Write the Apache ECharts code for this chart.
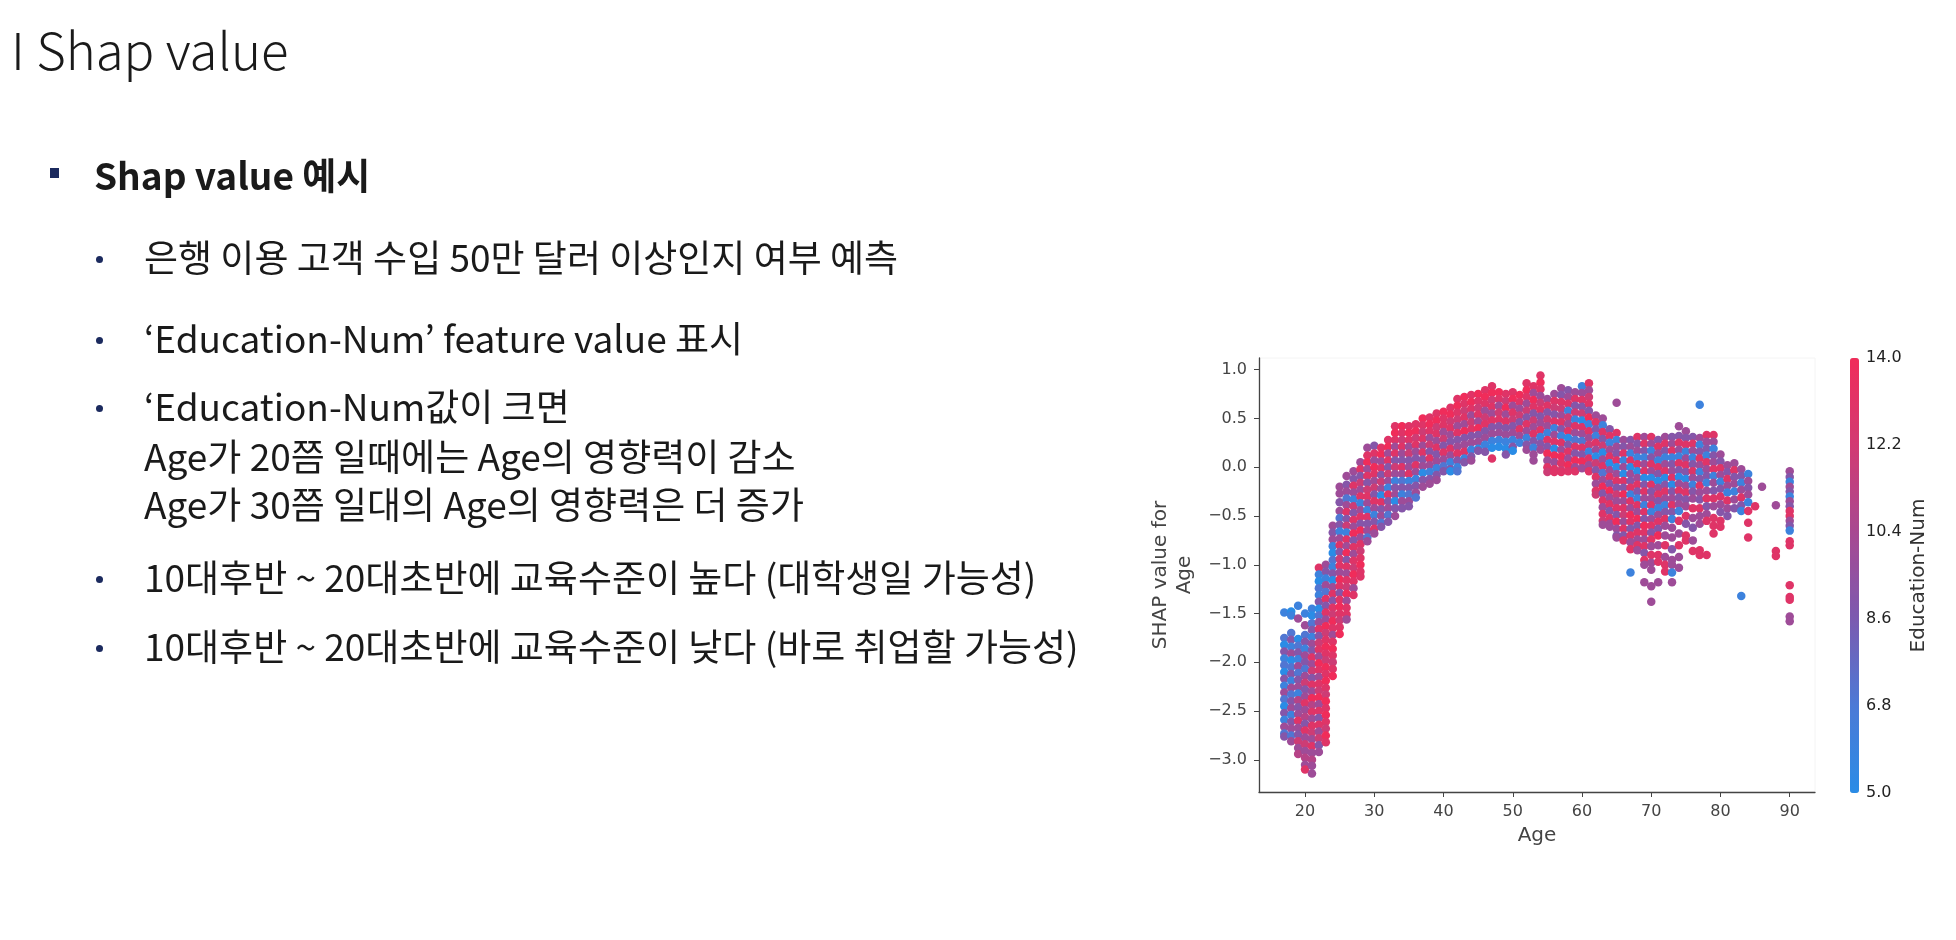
<!DOCTYPE html>
<html>
<head>
<meta charset="utf-8">
<script src="https://cdn.jsdelivr.net/npm/echarts@6/dist/echarts.min.js"></script>
<style>
    body { margin: 0; background: #fff; }
    #page { position: relative; width: 1956px; height: 940px; overflow: hidden; font-family: "Noto Sans CJK KR", sans-serif; color: #1a1a1a; }
    #chart { position: absolute; left: 0; top: 0; width: 1956px; height: 940px; }
    .title { position: absolute; left: 11px; top: 20px; font-size: 51px; line-height: 56px; font-weight: 300; white-space: nowrap; }
    .head { position: absolute; left: 94px; top: 154px; font-size: 37px; line-height: 40px; font-weight: 700; white-space: nowrap; }
    .sq { position: absolute; left: 50px; top: 168px; width: 9px; height: 10px; background: #1b2a5e; }
    .ln { position: absolute; left: 144px; font-size: 37px; line-height: 40px; white-space: nowrap; }
    .dot { position: absolute; left: 96px; width: 7px; height: 7px; border-radius: 50%; background: #1b2a5e; }
</style>
</head>
<body>
<div id="page">
    <div id="chart"></div>
    <div class="title">I Shap value</div>
    <div class="sq"></div>
    <div class="head">Shap value 예시</div>

    <div class="dot" style="top:256px"></div>
    <div class="ln" style="top:236px">은행 이용 고객 수입 50만 달러 이상인지 여부 예측</div>
    <div class="dot" style="top:337px"></div>
    <div class="ln" style="top:317px">‘Education-Num’ feature value 표시</div>
    <div class="dot" style="top:405px"></div>
    <div class="ln" style="top:385px">‘Education-Num값이 크면</div>
    <div class="ln" style="top:435px">Age가 20쯤 일때에는 Age의 영향력이 감소</div>
    <div class="ln" style="top:483px">Age가 30쯤 일대의 Age의 영향력은 더 증가</div>
    <div class="dot" style="top:576px"></div>
    <div class="ln" style="top:556px">10대후반 ~ 20대초반에 교육수준이 높다 (대학생일 가능성)</div>
    <div class="dot" style="top:645px"></div>
    <div class="ln" style="top:625px">10대후반 ~ 20대초반에 교육수준이 낮다 (바로 취업할 가능성)</div>
</div>
<script>
//刻度
var xTicks = [20, 30, 40, 50, 60, 70, 80, 90];
var yTicks = [-3, -2.5, -2, -1.5, -1, -0.5, 0, 0.5, 1];
var eduTicks = [5, 6.8, 8.6, 10.4, 12.2, 14];

//每一列: [Age, [[SHAP x100, Education-Num], ...]]
var colsYoung = [
    [17, [[-149,6],[-175,7],[-182,5],[-189,9],[-196,6],[-203,7],[-210,5],[-217,9],[-224,6],[-231,10],[-238,7],[-245,5],[-252,9],[-259,6],[-266,10],[-273,7],[-276,9]]],
    [18, [[-148,5],[-152,6],[-170,7],[-177,9],[-184,6],[-191,10],[-198,5],[-205,7],[-212,9],[-219,6],[-226,10],[-233,7],[-240,9],[-247,10],[-254,6],[-261,9],[-268,10],[-275,7],[-281,10]]],
    [19, [[-142,6],[-155,10],[-176,5],[-183,7],[-190,9],[-197,6],[-204,10],[-211,7],[-218,9],[-225,10],[-232,6],[-239,11],[-246,9],[-253,10],[-260,13],[-267,10],[-274,9],[-281,12],[-288,10],[-294,11]]],
    [20, [[-150,6],[-162,10],[-172,7],[-179,9],[-186,6],[-193,10],[-200,9],[-207,7],[-214,10],[-221,12],[-228,9],[-235,10],[-242,13],[-249,10],[-256,11],[-263,9],[-270,13],[-277,10],[-284,12],[-291,10],[-298,11],[-305,10],[-310,13]]],
    [21, [[-145,6],[-152,5],[-160,7],[-167,9],[-174,6],[-181,10],[-188,9],[-195,13],[-202,10],[-209,12],[-216,9],[-223,13],[-230,10],[-237,14],[-244,11],[-251,13],[-258,10],[-265,13],[-272,12],[-279,10],[-286,13],[-293,10],[-300,11],[-306,10],[-314,10]]],
    [22, [[-103,13],[-110,6],[-117,5],[-124,7],[-131,6],[-138,9],[-145,5],[-152,7],[-159,10],[-166,13],[-173,9],[-180,12],[-187,13],[-194,10],[-201,14],[-208,13],[-215,10],[-222,13],[-229,12],[-236,14],[-243,10],[-250,13],[-257,9],[-264,13],[-271,10],[-278,12],[-285,9],[-292,10]]],
    [23, [[-100,10],[-107,9],[-114,6],[-121,10],[-128,7],[-135,13],[-142,9],[-149,13],[-156,10],[-163,14],[-170,12],[-177,13],[-184,14],[-191,13],[-198,12],[-205,14],[-212,13],[-219,14],[-226,13],[-233,12],[-240,14],[-247,13],[-254,14],[-261,13],[-268,12],[-275,14],[-282,13]]],
    [24, [[-60,10],[-67,9],[-74,10],[-81,6],[-88,5],[-95,7],[-102,6],[-109,9],[-116,5],[-123,10],[-130,13],[-137,9],[-144,13],[-151,12],[-158,14],[-165,13],[-172,10],[-179,13],[-186,14],[-193,13],[-200,12],[-207,13],[-214,14]]],
    [25, [[-20,10],[-27,10],[-36,9],[-45,10],[-52,7],[-59,9],[-66,6],[-73,10],[-80,13],[-87,9],[-94,12],[-101,13],[-108,10],[-115,14],[-122,13],[-129,9],[-136,13],[-143,14],[-150,13],[-157,12],[-164,13],[-171,14]]],
    [26, [[-9,10],[-18,9],[-25,10],[-32,7],[-39,10],[-46,13],[-53,9],[-60,12],[-67,6],[-74,13],[-81,10],[-88,14],[-95,9],[-102,13],[-109,10],[-116,13],[-123,12],[-130,14],[-137,10],[-144,13],[-151,13],[-156,10]]],
    [27, [[-4,10],[-12,9],[-19,13],[-26,10],[-33,6],[-40,12],[-47,9],[-54,13],[-61,10],[-68,14],[-75,9],[-82,13],[-89,10],[-96,13],[-103,12],[-110,14],[-117,13],[-124,10],[-131,13]]],
    [28, [[5,10],[-2,13],[-9,9],[-16,12],[-23,10],[-30,13],[-37,6],[-44,10],[-51,13],[-58,9],[-65,14],[-72,10],[-79,13],[-86,12],[-93,13],[-100,14],[-107,13],[-112,13]]]
];
var colsMid = [
    [29, [[20,10],[12,13],[5,14],[-2,10],[-9,13],[-16,9],[-23,12],[-30,13],[-37,10],[-44,6],[-51,13],[-58,9],[-65,10],[-72,7],[-76,10]]],
    [30, [[22,9],[14,13],[7,10],[0,14],[-7,13],[-14,10],[-21,12],[-28,9],[-35,13],[-42,10],[-49,6],[-56,9],[-63,13],[-68,10]]],
    [31, [[20,13],[13,14],[6,10],[-1,13],[-8,9],[-15,12],[-22,10],[-29,5],[-36,13],[-43,9],[-50,10],[-57,7],[-61,9]]],
    [32, [[28,13],[21,14],[14,10],[7,13],[0,9],[-7,12],[-14,10],[-21,6],[-28,13],[-35,9],[-42,10],[-49,7],[-56,9]]],
    [33, [[42,13],[35,14],[28,13],[21,10],[14,13],[7,9],[0,12],[-7,10],[-14,6],[-21,9],[-28,10],[-35,5],[-42,9],[-50,10]]],
    [34, [[42,14],[35,13],[28,12],[21,13],[14,10],[7,9],[0,13],[-7,10],[-14,7],[-21,9],[-28,6],[-35,10],[-42,9]]],
    [35, [[42,13],[35,14],[28,13],[21,10],[14,12],[7,9],[0,10],[-7,13],[-14,6],[-21,9],[-28,7],[-35,10],[-40,9]]],
    [36, [[44,13],[37,14],[30,12],[23,13],[16,10],[9,9],[2,13],[-5,10],[-12,6],[-19,9],[-26,10],[-31,7]]],
    [37, [[50,14],[43,13],[36,12],[29,13],[22,10],[15,13],[8,9],[1,10],[-6,5],[-13,9],[-20,10]]],
    [38, [[51,13],[44,14],[37,13],[30,10],[23,12],[16,9],[9,13],[2,10],[-5,6],[-12,9],[-17,10]]],
    [39, [[55,13],[48,14],[41,12],[34,13],[27,10],[20,13],[13,9],[6,10],[-1,6],[-8,9],[-13,10]]],
    [40, [[57,14],[50,13],[43,13],[36,10],[29,12],[22,9],[15,13],[8,10],[1,7],[-4,9]]],
    [41, [[61,13],[54,14],[47,12],[40,13],[33,10],[26,9],[19,13],[12,10],[5,6],[-2,9],[-4,5]]],
    [42, [[70,13],[63,14],[56,13],[49,12],[42,10],[35,13],[28,9],[21,10],[14,13],[7,9],[0,6],[-4,7]]],
    [43, [[72,14],[65,13],[58,12],[51,13],[44,10],[37,14],[30,9],[23,10],[16,13],[9,6],[5,9]]],
    [44, [[74,13],[67,14],[60,13],[53,10],[46,12],[39,13],[32,9],[25,10],[18,6],[11,9],[7,10]]],
    [45, [[75,14],[68,13],[61,12],[54,13],[47,10],[40,14],[33,9],[26,10],[19,5],[17,9]]],
    [46, [[79,13],[72,14],[65,13],[58,10],[51,12],[44,13],[37,9],[30,10],[23,6],[16,9]]],
    [47, [[83,13],[76,14],[69,12],[62,13],[55,10],[48,13],[41,9],[34,10],[27,6],[20,5],[9,13]]],
    [48, [[77,14],[70,13],[63,10],[56,12],[49,13],[42,9],[35,10],[28,6],[21,5]]],
    [49, [[75,13],[68,12],[61,14],[54,10],[47,13],[40,9],[33,10],[26,6],[19,5],[13,9]]],
    [50, [[77,13],[70,14],[63,10],[56,13],[49,12],[42,9],[35,10],[28,6],[21,9],[17,5]]],
    [51, [[74,14],[67,13],[60,10],[53,12],[46,9],[39,13],[32,10],[25,6]]],
    [52, [[86,13],[79,14],[72,13],[65,10],[58,12],[51,9],[44,13],[37,10],[30,6],[23,9],[18,10]]],
    [53, [[83,13],[76,10],[69,14],[62,13],[55,9],[48,12],[41,10],[34,13],[27,9],[20,6],[13,10],[7,10]]],
    [54, [[94,13],[87,14],[80,13],[73,10],[66,12],[59,13],[52,9],[45,10],[38,13],[31,6],[24,9],[18,10]]]
];
var colsLate = [
    [55, [[70,10],[63,13],[56,9],[49,12],[42,10],[35,6],[28,13],[21,9],[14,14],[7,10],[0,13],[-5,12]]],
    [56, [[75,10],[68,13],[61,12],[54,9],[47,13],[40,6],[33,10],[26,13],[19,5],[12,14],[5,10],[-2,13],[-5,13]]],
    [57, [[81,10],[74,9],[67,13],[60,12],[53,10],[46,13],[39,9],[32,6],[25,13],[18,10],[11,14],[4,13],[-3,12],[-5,13]]],
    [58, [[79,9],[72,10],[65,13],[58,6],[51,12],[44,10],[37,13],[30,5],[23,9],[16,13],[9,10],[2,14],[-4,13]]],
    [59, [[77,10],[70,13],[63,9],[56,12],[49,6],[42,13],[35,10],[28,7],[21,13],[14,9],[7,14],[0,10],[-4,13]]],
    [60, [[83,6],[76,10],[69,13],[62,9],[55,12],[48,5],[41,13],[34,10],[27,7],[20,13],[13,9],[6,14],[-1,10]]],
    [61, [[86,13],[79,10],[72,12],[65,13],[58,9],[51,14],[44,6],[37,13],[30,10],[23,12],[16,6],[9,13],[2,10],[-4,13]]],
    [62, [[53,10],[46,13],[39,9],[32,6],[25,13],[18,10],[11,5],[4,12],[-3,9],[-10,13],[-17,10],[-24,13],[-28,12]]],
    [63, [[50,10],[43,6],[36,13],[29,9],[22,12],[15,5],[8,10],[1,13],[-6,7],[-13,10],[-20,14],[-27,9],[-34,13],[-41,10],[-48,13],[-55,12],[-59,10]]],
    [64, [[39,9],[32,13],[25,6],[18,10],[11,13],[4,5],[-3,10],[-10,13],[-17,9],[-24,14],[-31,10],[-38,13],[-45,9],[-52,13],[-58,10],[-61,10]]],
    [65, [[66,10],[35,13],[28,6],[21,10],[14,9],[7,13],[0,5],[-7,10],[-14,13],[-21,9],[-28,12],[-35,10],[-42,13],[-49,9],[-56,14],[-63,10],[-70,9],[-72,10]]],
    [66, [[28,10],[21,9],[14,13],[7,6],[0,10],[-7,5],[-14,13],[-21,9],[-28,14],[-35,10],[-42,13],[-49,12],[-56,10],[-63,13],[-70,9],[-75,13]]],
    [67, [[28,9],[21,10],[14,6],[7,13],[0,5],[-7,10],[-14,9],[-21,13],[-28,6],[-35,13],[-42,10],[-49,14],[-56,13],[-63,9],[-70,13],[-77,10],[-84,13],[-108,6]]],
    [68, [[31,13],[24,9],[17,10],[10,6],[3,13],[-4,5],[-11,10],[-18,13],[-25,9],[-32,6],[-39,13],[-46,10],[-53,14],[-60,9],[-67,13],[-74,10],[-80,13],[-85,10]]],
    [69, [[31,10],[24,13],[17,9],[10,6],[3,10],[-4,13],[-11,5],[-18,9],[-25,13],[-32,10],[-39,6],[-46,13],[-53,9],[-60,14],[-67,13],[-74,10],[-81,13],[-88,9],[-95,13],[-100,10],[-118,10]]],
    [70, [[31,13],[24,10],[17,6],[10,9],[3,13],[-4,10],[-11,5],[-18,13],[-25,9],[-32,10],[-39,13],[-46,6],[-53,10],[-60,13],[-67,9],[-74,13],[-81,10],[-90,13],[-98,10],[-105,10],[-122,10],[-138,10]]],
    [71, [[28,9],[21,13],[14,10],[7,6],[0,13],[-7,9],[-14,5],[-21,10],[-28,13],[-35,9],[-42,6],[-49,10],[-56,13],[-63,9],[-70,14],[-80,10],[-90,13],[-97,13],[-118,10]]],
    [72, [[31,10],[24,13],[17,9],[10,6],[3,10],[-4,13],[-11,5],[-18,9],[-25,13],[-32,10],[-39,6],[-46,9],[-53,13],[-60,10],[-70,10],[-80,13],[-92,10],[-100,13],[-107,13]]],
    [73, [[31,9],[24,10],[17,13],[10,6],[3,9],[-4,10],[-11,13],[-18,5],[-25,9],[-32,10],[-39,13],[-46,9],[-53,6],[-62,10],[-72,10],[-84,9],[-95,10],[-100,10],[-108,6],[-118,10]]],
    [74, [[42,10],[32,9],[25,13],[18,10],[11,6],[4,13],[-3,9],[-10,5],[-17,10],[-24,13],[-31,9],[-38,10],[-45,6],[-55,13],[-68,10],[-80,13],[-92,10],[-103,10]]]
];
var colsOld = [
    [75, [[37,10],[30,9],[23,13],[16,6],[9,10],[2,13],[-5,9],[-12,5],[-19,10],[-26,13],[-33,9],[-40,10],[-50,13],[-58,9],[-70,13],[-75,13]]],
    [76, [[31,9],[24,13],[17,10],[10,6],[3,9],[-4,13],[-11,10],[-18,6],[-25,9],[-32,10],[-42,13],[-52,10],[-62,9],[-75,10],[-86,13]]],
    [77, [[64,6],[30,10],[23,6],[16,9],[9,13],[2,10],[-5,6],[-12,9],[-19,13],[-26,10],[-33,9],[-42,13],[-50,10],[-58,10],[-85,13],[-90,13]]],
    [78, [[33,13],[26,10],[19,9],[12,6],[5,13],[-2,10],[-9,9],[-16,6],[-24,10],[-32,13],[-40,9],[-48,10],[-55,13],[-90,13]]],
    [79, [[33,13],[26,10],[19,6],[12,9],[5,10],[-2,13],[-9,6],[-16,10],[-24,9],[-32,13],[-40,10],[-52,13],[-60,13],[-68,13]]],
    [80, [[13,10],[6,9],[-1,13],[-8,10],[-15,6],[-22,9],[-30,13],[-38,10],[-46,9],[-55,13],[-61,13]]],
    [81, [[2,10],[-5,9],[-12,13],[-19,10],[-26,6],[-34,13],[-42,10],[-50,9]]],
    [82, [[4,10],[-3,13],[-10,9],[-17,10],[-25,6],[-33,10],[-42,9]]],
    [83, [[-2,10],[-9,9],[-16,6],[-23,10],[-31,13],[-39,9],[-45,6],[-132,6]]],
    [84, [[-7,6],[-14,10],[-21,9],[-28,10],[-36,6],[-45,13],[-57,13],[-72,13]]],
    [85, [[-40,13]]],
    [86, [[-20,10]]],
    [88, [[-39,10],[-86,13],[-91,13]]],
    [90, [[-4,10],[-10,9],[-15,6],[-20,10],[-25,9],[-30,6],[-35,10],[-40,9],[-45,13],[-50,13],[-55,10],[-60,9],[-65,6],[-76,13],[-80,13],[-121,13],[-133,13],[-136,13],[-153,10],[-158,10]]]
];

//整理成散点数据 [age, shap, edu]
var points = [];
[colsYoung, colsMid, colsLate, colsOld].forEach(function (group) {
    group.forEach(function (col) {
        col[1].forEach(function (d) {
            points.push([col[0], d[0] / 100, d[1]]);
        });
    });
});

function fmt(v) {
    return v.toFixed(1).replace('-', '\u2212');
}

var axisColor = '#444';
var tickFont = { color: '#444', fontSize: 16, fontFamily: 'DejaVu Sans' };

var myChart = echarts.init(document.getElementById('chart'));
var option = {
    animation: false,
    grid: [
        { left: 1259, top: 358, width: 556, height: 434, show: true, borderColor: '#f4f4f4', borderWidth: 1 },
        { left: 1850, top: 358, width: 9, height: 435 }
    ],
    xAxis: [
        {
            type: 'value', gridIndex: 0, min: 13.35, max: 93.65,
            splitLine: { show: false },
            axisLine: { onZero: false, lineStyle: { color: axisColor, width: 1.3 } },
            axisTick: { show: true, length: 5, customValues: xTicks, lineStyle: { color: axisColor } },
            axisLabel: Object.assign({ customValues: xTicks, margin: 12 }, tickFont),
            name: 'Age', nameLocation: 'middle', nameGap: 34,
            nameTextStyle: { fontSize: 20, color: '#444', fontFamily: 'DejaVu Sans' }
        },
        { type: 'value', gridIndex: 1, min: 0, max: 1, show: false }
    ],
    yAxis: [
        {
            type: 'value', gridIndex: 0, min: -3.33, max: 1.12,
            splitLine: { show: false },
            axisLine: { onZero: false, lineStyle: { color: axisColor, width: 1.3 } },
            axisTick: { show: true, length: 5, customValues: yTicks, lineStyle: { color: axisColor } },
            axisLabel: Object.assign({ customValues: yTicks, margin: 12, formatter: fmt }, tickFont),
            name: 'SHAP value for\nAge', nameLocation: 'middle', nameGap: 62, nameRotate: 90,
            nameTextStyle: { fontSize: 20, color: '#444', fontFamily: 'DejaVu Sans', lineHeight: 24 }
        },
        {
            type: 'value', gridIndex: 1, position: 'right', min: 5, max: 14,
            splitLine: { show: false },
            axisLine: { show: false },
            axisTick: { show: false },
            axisLabel: { customValues: eduTicks, margin: 7, formatter: fmt, color: '#222', fontSize: 16, fontFamily: 'DejaVu Sans' },
            name: 'Education-Num', nameLocation: 'middle', nameGap: 50, nameRotate: 90,
            nameTextStyle: { fontSize: 20, color: '#333', fontFamily: 'DejaVu Sans' }
        }
    ],
    visualMap: {
        type: 'continuous', min: 5, max: 14, dimension: 2, seriesIndex: 0,
        left: 1850, top: 358, itemWidth: 9, itemHeight: 435, padding: 0,
        calculable: false, text: null, showLabel: false,
        inRange: { color: ['#2a8ce6', '#4c7ad6', '#7b5ab0', '#a84891', '#d23a72', '#f02c5a'] }
    },
    series: [{
        type: 'scatter', xAxisIndex: 0, yAxisIndex: 0,
        symbolSize: 8.5, data: points, silent: true,
        itemStyle: { opacity: 1 }
    }]
};
myChart.setOption(option);
</script>
</body>
</html>
